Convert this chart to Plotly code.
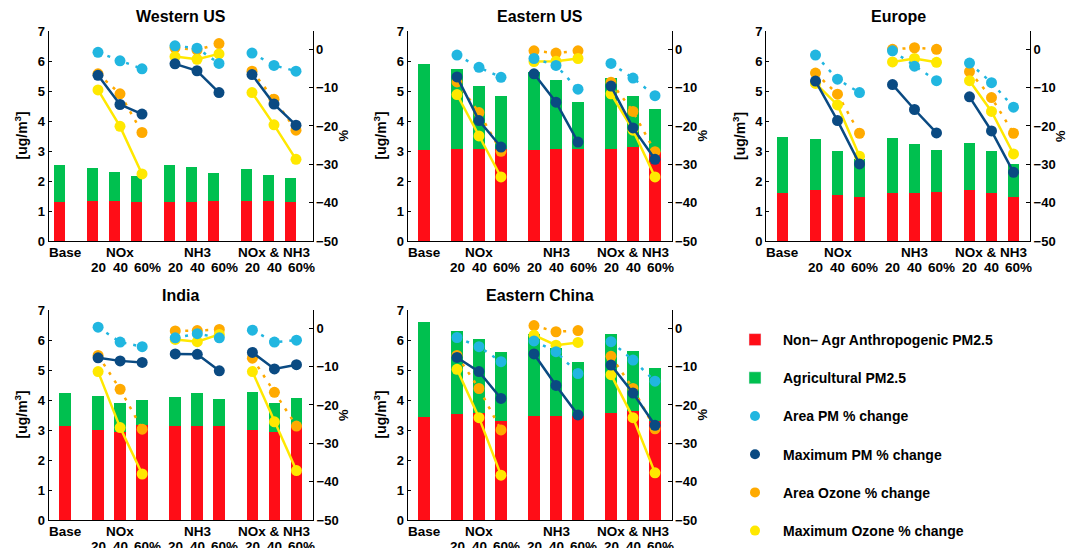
import plotly.graph_objects as go

# ---------------- data ----------------
regions = ["Western US", "Eastern US", "Europe", "India", "Eastern China"]
group_labels = ["Base", "NOx", "NH3", "NOx & NH3"]
pct_labels = ["20", "40", "60%", "20", "40", "60%", "20", "40", "60%"]

# bar positions (Base, NOx 20/40/60, NH3 20/40/60, NOx&NH3 20/40/60)
bar_x = [0, 1.5, 2.5, 3.5, 5, 6, 7, 8.5, 9.5, 10.5]
group_x = [0, 2.5, 6, 9.5]

# Non-agricultural anthropogenic PM2.5 [ug/m3]
nonagr_wus = [1.31, 1.34, 1.34, 1.31, 1.31, 1.31, 1.34, 1.34, 1.34, 1.31]
nonagr_eus = [3.04, 3.08, 3.08, 3.07, 3.04, 3.08, 3.08, 3.08, 3.12, 2.97]
nonagr_eur = [1.60, 1.71, 1.55, 1.47, 1.60, 1.60, 1.62, 1.71, 1.60, 1.47]
nonagr_ind = [3.12, 3.01, 2.95, 3.18, 3.12, 3.12, 3.12, 3.01, 2.95, 3.18]
nonagr_chn = [3.44, 3.55, 3.57, 3.31, 3.48, 3.48, 3.48, 3.58, 3.65, 3.31]

# Agricultural PM2.5 [ug/m3]
agr_wus = [1.21, 1.11, 0.97, 0.86, 1.23, 1.16, 0.94, 1.07, 0.87, 0.80]
agr_eus = [2.85, 2.64, 2.10, 1.78, 2.60, 2.30, 1.57, 2.37, 1.73, 1.42]
agr_eur = [1.88, 1.70, 1.46, 1.28, 1.85, 1.62, 1.42, 1.57, 1.39, 1.11]
agr_ind = [1.13, 1.14, 0.96, 0.83, 0.99, 1.13, 0.93, 1.27, 0.96, 0.90]
agr_chn = [3.15, 2.74, 2.45, 2.28, 2.71, 2.27, 1.80, 2.61, 2.00, 1.77]

# % changes (NOx 20/40/60, NH3 20/40/60, NOx&NH3 20/40/60)
area_pm_wus = [-0.8, -3.0, -5.1, 0.9, 0.3, -3.7, -1.0, -4.2, -5.7]
max_pm_wus = [-6.8, -14.4, -16.9, -3.8, -5.6, -11.3, -6.6, -14.3, -19.8]
area_o3_wus = [-6.4, -11.6, -21.7, 0.4, -0.2, 1.5, -5.7, -13.0, -21.1]
max_o3_wus = [-10.6, -20.1, -32.5, -1.9, -2.6, -1.2, -11.3, -19.7, -28.7]

area_pm_eus = [-1.5, -4.7, -7.3, -2.4, -4.2, -10.4, -3.7, -7.5, -12.1]
max_pm_eus = [-7.2, -18.6, -25.5, -6.4, -13.8, -24.2, -9.6, -20.5, -28.7]
area_o3_eus = [-8.5, -16.5, -26.6, -0.4, -1.0, -0.4, -8.6, -16.2, -26.7]
max_o3_eus = [-11.8, -22.6, -33.3, -3.2, -3.1, -2.4, -11.6, -21.1, -33.3]

area_pm_eur = [-1.5, -7.8, -11.3, -0.4, -4.4, -8.2, -3.6, -8.7, -15.1]
max_pm_eur = [-8.3, -18.6, -29.9, -9.2, -15.7, -21.8, -12.4, -21.3, -32.1]
area_o3_eur = [-6.2, -11.7, -21.9, 0.0, 0.4, 0.0, -5.8, -12.6, -21.9]
max_o3_eur = [-8.9, -14.5, -27.9, -3.3, -2.4, -3.4, -8.2, -16.2, -27.3]

area_pm_ind = [0.3, -3.6, -4.8, -2.5, -1.4, -2.5, -0.5, -3.6, -3.1]
max_pm_ind = [-7.7, -8.5, -8.9, -6.7, -6.8, -11.1, -6.3, -10.6, -9.5]
area_o3_ind = [-7.1, -15.9, -26.3, -0.7, -0.6, -0.3, -7.8, -16.7, -25.5]
max_o3_ind = [-11.3, -25.9, -38.0, -2.9, -3.5, -1.6, -11.3, -24.4, -37.1]

area_pm_chn = [-2.4, -4.8, -8.7, -3.3, -6.1, -11.8, -3.5, -8.3, -13.8]
max_pm_chn = [-7.6, -11.3, -18.3, -6.7, -14.9, -22.6, -9.6, -16.9, -25.3]
area_o3_chn = [-7.1, -15.7, -26.5, 0.7, -0.9, -0.6, -7.3, -15.7, -26.2]
max_o3_chn = [-10.7, -23.3, -38.3, -1.8, -4.4, -3.7, -12.1, -23.3, -37.7]

nonagr = [nonagr_wus, nonagr_eus, nonagr_eur, nonagr_ind, nonagr_chn]
agr = [agr_wus, agr_eus, agr_eur, agr_ind, agr_chn]
area_pm = [area_pm_wus, area_pm_eus, area_pm_eur, area_pm_ind, area_pm_chn]
max_pm = [max_pm_wus, max_pm_eus, max_pm_eur, max_pm_ind, max_pm_chn]
area_o3 = [area_o3_wus, area_o3_eus, area_o3_eur, area_o3_ind, area_o3_chn]
max_o3 = [max_o3_wus, max_o3_eus, max_o3_eur, max_o3_ind, max_o3_chn]

# ---------------- style ----------------
FONT = "Liberation Sans, Arial, Helvetica, sans-serif"
C_RED = "#FF0D17"
C_GREEN = "#00C04F"
C_LBLUE = "#21B6E0"
C_DBLUE = "#0A4A82"
C_ORANGE = "#FFAA00"
C_YELLOW = "#FFE800"

W, H = 1075, 548
# pixel boxes of plot areas: (left, right, top, bottom)
boxes = [
    (48.5, 312.5, 31, 241),
    (407.5, 671.5, 31, 241),
    (766, 1030, 31, 241),
    (48.5, 313, 310, 520),
    (407.5, 671.5, 310, 520),
]

fig = go.Figure()
layout = dict(
    width=W, height=H,
    margin=dict(l=0, r=0, t=0, b=0, autoexpand=False),
    paper_bgcolor="white", plot_bgcolor="white",
    barmode="stack", bargap=0,
    font=dict(family=FONT, color="black", size=13, weight="bold"),
    showlegend=True,
    annotations=[],
)

line_x = bar_x[1:4] + [None] + bar_x[4:7] + [None] + bar_x[7:10]


def with_gaps(v):
    return v[0:3] + [None] + v[3:6] + [None] + v[6:9]


series_specs = [
    ("Area Ozone % change", area_o3, C_ORANGE, "3px,7px"),
    ("Maximum Ozone % change", max_o3, C_YELLOW, "solid"),
    ("Area PM % change", area_pm, C_LBLUE, "3px,7px"),
    ("Maximum PM % change", max_pm, C_DBLUE, "solid"),
]

LBL_FONT = dict(size=13.5, family=FONT, weight="bold", color="black")

for i, region in enumerate(regions):
    xn = i + 1
    yl = 2 * i + 1
    yr = 2 * i + 2
    xid = "x" if xn == 1 else f"x{xn}"
    ylid = "y" if yl == 1 else f"y{yl}"
    yrid = f"y{yr}"
    l, r, t, b = boxes[i]
    xdom = [l / W, r / W]
    ydom = [1 - b / H, 1 - t / H]

    fig.add_trace(go.Bar(x=bar_x, y=nonagr[i], xaxis=xid, yaxis=ylid,
                         marker=dict(color=C_RED, line=dict(width=0)), width=0.53,
                         name="Non\u2013 Agr Anthropogenic PM2.5", showlegend=False,
                         offsetgroup=str(i)))
    fig.add_trace(go.Bar(x=bar_x, y=agr[i], xaxis=xid, yaxis=ylid,
                         marker=dict(color=C_GREEN, line=dict(width=0)), width=0.53,
                         name="Agricultural PM2.5", showlegend=False,
                         offsetgroup=str(i)))
    for name, data, color, dash in series_specs:
        fig.add_trace(go.Scatter(x=line_x, y=with_gaps(data[i]), xaxis=xid, yaxis=yrid,
                                 mode="lines+markers", name=name, showlegend=False,
                                 line=dict(color=color, width=2.5, dash=dash),
                                 marker=dict(color=color, size=11),
                                 connectgaps=False))

    layout[f"xaxis{xn}" if xn > 1 else "xaxis"] = dict(
        domain=xdom, range=[-0.75, 11.25], anchor=ylid,
        showline=True, linecolor="black", linewidth=1,
        showgrid=False, zeroline=False, ticks="", showticklabels=False,
        fixedrange=True,
    )
    layout[f"yaxis{yl}" if yl > 1 else "yaxis"] = dict(
        domain=ydom, range=[0, 7], anchor=xid,
        showline=True, linecolor="black", linewidth=1,
        showgrid=False, zeroline=False, ticks="inside", ticklen=3, tickcolor="black",
        tickvals=list(range(0, 8)),
        tickfont=dict(size=13, family=FONT, weight="bold"),
    )
    layout[f"yaxis{yr}"] = dict(
        domain=ydom, range=[-50, 4.77], anchor=xid, overlaying=ylid, side="right",
        showline=True, linecolor="black", linewidth=1,
        showgrid=False, zeroline=False, ticks="inside", ticklen=4, tickcolor="black",
        tickvals=[-50, -40, -30, -20, -10, 0],
        tickfont=dict(size=13, family=FONT, weight="bold"),
    )
    # panel title
    layout["annotations"].append(dict(
        text=region, xref=f"{xid} domain", yref=f"{ylid} domain", x=0.5, y=1,
        xanchor="center", yanchor="bottom", yshift=4, showarrow=False,
        font=dict(size=16, family=FONT, weight="bold")))
    # axis titles
    layout["annotations"].append(dict(
        text="[ug/m<sup>3</sup>]", xref=f"{xid} domain", yref=f"{ylid} domain",
        x=0, y=0.5, xanchor="center", yanchor="middle", xshift=-27, textangle=-90,
        showarrow=False, font=dict(size=14, family=FONT, weight="bold")))
    layout["annotations"].append(dict(
        text="%", xref=f"{xid} domain", yref=f"{ylid} domain",
        x=1, y=0.5, xanchor="center", yanchor="middle", xshift=30, textangle=-90,
        showarrow=False, font=dict(size=13, family=FONT, weight="bold")))
    # category labels: first row
    for xv, lab in zip(group_x, group_labels):
        layout["annotations"].append(dict(
            text=lab, xref=xid, yref=f"{ylid} domain", x=xv, y=0,
            xanchor="center", yanchor="middle", yshift=-11, showarrow=False,
            font=LBL_FONT))
    # category labels: second row
    for xv, lab in zip(bar_x[1:], pct_labels):
        layout["annotations"].append(dict(
            text=lab, xref=xid, yref=f"{ylid} domain", x=xv, y=0,
            xanchor="center", yanchor="middle", yshift=-26.5,
            xshift=5 if lab.endswith("%") else 0, showarrow=False,
            font=LBL_FONT))

# legend-only entries
fig.add_trace(go.Bar(x=[None], y=[None], name="Non\u2013 Agr Anthropogenic PM2.5",
                     marker=dict(color=C_RED), legendgroup="a", showlegend=True))
fig.add_trace(go.Bar(x=[None], y=[None], name="Agricultural PM2.5",
                     marker=dict(color=C_GREEN), legendgroup="b", showlegend=True))
for name, color, grp in [("Area PM % change", C_LBLUE, "c"),
                         ("Maximum PM % change", C_DBLUE, "d"),
                         ("Area Ozone % change", C_ORANGE, "e"),
                         ("Maximum Ozone % change", C_YELLOW, "f")]:
    fig.add_trace(go.Scatter(x=[None], y=[None], mode="markers", name=name,
                             marker=dict(color=color, size=10),
                             legendgroup=grp, showlegend=True))

layout["legend"] = dict(
    x=727 / W, y=1 - 324 / H, xanchor="left", yanchor="top",
    tracegroupgap=17, itemwidth=46,
    font=dict(size=14, family=FONT, weight="bold"),
    bgcolor="rgba(0,0,0,0)", itemclick=False, itemdoubleclick=False,
)

fig.update_layout(**layout)
fig.write_html(
    "out.html",
    config={"displayModeBar": False, "staticPlot": True},
    post_script="document.body.style.margin='0';document.body.style.overflow='hidden';",
)
